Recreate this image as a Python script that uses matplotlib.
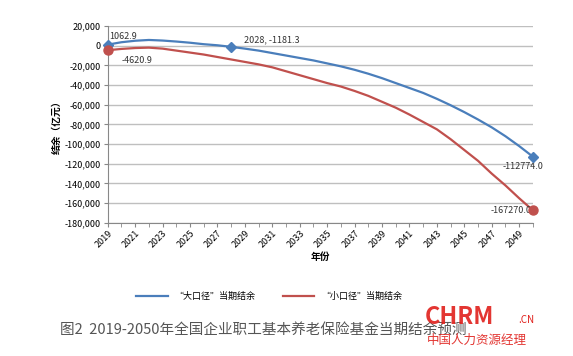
import matplotlib
matplotlib.use("Agg")
import matplotlib.pyplot as plt
from matplotlib.ticker import FuncFormatter, MultipleLocator

plt.rcParams["font.family"] = ["Noto Sans CJK SC", "DejaVu Sans"]

years = list(range(2019, 2051))
big = [1062.9, 3500, 5000, 5800, 5200, 4200, 3000, 1500, 400, -1181.3,
       -3000, -5000, -7500, -10000, -12500, -15000, -18000, -21000, -24500,
       -28500, -33000, -38000, -43000, -48000, -54000, -60500, -67500,
       -75000, -83000, -92000, -102000, -112774.0]
small = [-4620.9, -3300, -2400, -2000, -3000, -5000, -7000, -9000, -11500,
         -14000, -16500, -19000, -22000, -26000, -30000, -34000, -38000,
         -41500, -46000, -51000, -57000, -63000, -70000, -77500, -85000,
         -95000, -106000, -117000, -130000, -142000, -155000, -167270.0]
labels = ["“大口径”当期结余", "“小口径”当期结余"]
caption = "图2  2019-2050年全国企业职工基本养老保险基金当期结余预测"

BLUE, RED = "#4a7ebb", "#c0504d"

fig = plt.figure(figsize=(5.73, 3.56), dpi=100)
ax = fig.add_axes([0.188, 0.374, 0.742, 0.553])

ax.plot(years, big, color=BLUE, lw=1.6, label=labels[0])
ax.plot(years, small, color=RED, lw=1.6, label=labels[1])
for i in (0, 9, 31):
    ax.plot(years[i], big[i], "D", color=BLUE, ms=5, clip_on=False, zorder=4)
for i in (0, 31):
    ax.plot(years[i], small[i], "o", color=RED, ms=6.5, clip_on=False, zorder=4)

fs = 6.5
tc = "#333333"
ax.annotate(f"{big[0]:.1f}", (years[0], big[0]), xytext=(1, 4),
            textcoords="offset points", fontsize=fs, color=tc)
ax.annotate(f"{small[0]:.1f}", (years[0], small[0]), xytext=(10, -9),
            textcoords="offset points", fontsize=fs, color=tc)
ax.annotate(f"{years[9]}, {big[9]:.1f}", (years[9], big[9]), xytext=(9, 3),
            textcoords="offset points", fontsize=fs, color=tc)
ax.annotate(f"{big[31]:.1f}", (years[31], big[31]), xytext=(-22, -9),
            textcoords="offset points", fontsize=fs, color=tc,
            annotation_clip=False)
ax.annotate(f"{small[31]:.1f}", (years[31], small[31]), xytext=(-1, 0),
            textcoords="offset points", fontsize=fs, color=tc,
            ha="right", va="center")

ax.set_xlim(2019, 2050)
ax.set_ylim(-180000, 20000)
ax.yaxis.set_major_locator(MultipleLocator(20000))
ax.yaxis.set_major_formatter(FuncFormatter(lambda v, p: f"{v:,.0f}"))
ax.set_xticks(list(range(2019, 2051, 2)))
ax.xaxis.set_minor_locator(MultipleLocator(1))
ax.tick_params(axis="x", which="both", length=3, color="#888888",
               labelsize=fs, labelrotation=45, pad=1)
ax.tick_params(axis="y", length=3, color="#888888", labelsize=fs, pad=2)
for lab in ax.get_xticklabels():
    lab.set_ha("right")
    lab.set_rotation_mode("anchor")
ax.grid(axis="y", color="#bfbfbf", lw=1)
ax.set_axisbelow(True)
for s in ("top", "right"):
    ax.spines[s].set_visible(False)
for s in ("left", "bottom"):
    ax.spines[s].set_color("#888888")

ax.set_xlabel("年份", fontsize=7, fontweight="bold", labelpad=2)
ax.set_ylabel("结余（亿元）", fontsize=7, fontweight="bold", labelpad=2)

fig.legend(loc="center", bbox_to_anchor=(0.47, 0.168), ncol=2, frameon=False,
           fontsize=fs, handlelength=3.5, columnspacing=3)
fig.text(0.105, 0.073, caption, fontsize=10.5, color="#555555", va="center")
fig.text(0.742, 0.11, "CHRM", fontsize=17, color="#e0201c", fontweight="bold",
         va="center", alpha=0.9)
fig.text(0.905, 0.1, ".CN", fontsize=7, color="#e0201c", va="center")
fig.text(0.745, 0.045, "中国人力资源经理", fontsize=9, color="#e0201c",
         va="center", alpha=0.9)

fig.savefig("out.png", dpi=100)
